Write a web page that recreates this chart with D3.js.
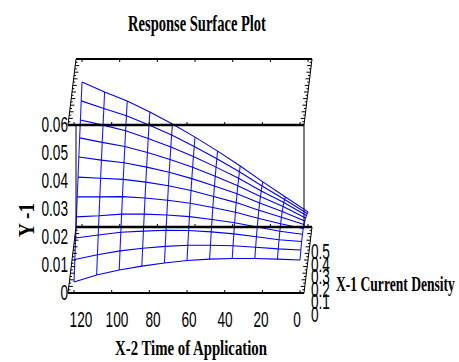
<!DOCTYPE html>
<html>
<head>
<meta charset="utf-8">
<script src="https://cdn.jsdelivr.net/npm/d3@7"></script>
<style>
  body { margin: 0; background: #fff; }
  svg { display: block; }
</style>
</head>
<body>
<svg id="chart" width="459" height="362"></svg>
<script>
// X-2 time of application (mesh columns) and X-1 current density (mesh rows)
const timeValues = [0, 12, 24, 36, 48, 60, 72, 84, 96, 108, 120];
const densityValues = [0, 0.05, 0.1, 0.15, 0.2, 0.25, 0.3, 0.35, 0.4, 0.45, 0.5];

// Y-1 response, one array per density value, read across time 0 -> 120
const respD000 = [0.0118, 0.0121, 0.0123, 0.0123, 0.0121, 0.0116, 0.0107, 0.0096, 0.0082, 0.0064, 0.0039];
const respD005 = [0.0130, 0.0134, 0.0140, 0.0145, 0.0147, 0.0147, 0.0143, 0.0136, 0.0127, 0.0113, 0.0096];
const respD010 = [0.0137, 0.0143, 0.0154, 0.0164, 0.0171, 0.0176, 0.0177, 0.0174, 0.0170, 0.0160, 0.0149];
const respD015 = [0.0139, 0.0150, 0.0165, 0.0180, 0.0192, 0.0202, 0.0208, 0.0211, 0.0211, 0.0205, 0.0201];
const respD020 = [0.0136, 0.0153, 0.0173, 0.0194, 0.0211, 0.0226, 0.0237, 0.0245, 0.0250, 0.0249, 0.0249];
const respD025 = [0.0127, 0.0153, 0.0178, 0.0205, 0.0227, 0.0248, 0.0265, 0.0278, 0.0288, 0.0292, 0.0296];
const respD030 = [0.0116, 0.0150, 0.0180, 0.0213, 0.0241, 0.0267, 0.0290, 0.0308, 0.0324, 0.0333, 0.0344];
const respD035 = [0.0103, 0.0144, 0.0180, 0.0218, 0.0252, 0.0284, 0.0312, 0.0337, 0.0358, 0.0373, 0.0389];
const respD040 = [0.0088, 0.0135, 0.0176, 0.0221, 0.0261, 0.0299, 0.0333, 0.0363, 0.0391, 0.0411, 0.0429];
const respD045 = [0.0072, 0.0122, 0.0170, 0.0221, 0.0267, 0.0311, 0.0352, 0.0388, 0.0421, 0.0447, 0.0474];
const respD050 = [0.0054, 0.0107, 0.0161, 0.0218, 0.0271, 0.0321, 0.0368, 0.0411, 0.0450, 0.0482, 0.0518];
const responseRows = [respD000, respD005, respD010, respD015, respD020, respD025,
                      respD030, respD035, respD040, respD045, respD050];

const timeTicks = [120, 100, 80, 60, 40, 20, 0];
const densityTicks = [0, 0.1, 0.2, 0.3, 0.4, 0.5];
const respTicks = [0, 0.01, 0.02, 0.03, 0.04, 0.05, 0.06];

const svg = d3.select('#chart');

// oblique projection of the 3-D box: time runs right-to-left, density goes "into" the page
const xT = d3.scaleLinear().domain([-2.1, 123.2]).range([304, 68]);
const xC = d3.scaleLinear().domain([0, 0.5]).range([0, 8]);
const yZ = d3.scaleLinear().domain([0, 0.06]).range([293, 125]);
const yC = d3.scaleLinear().domain([0, 0.5]).range([0, -66]);
const px = (t, c) => xT(t) + xC(c);
const py = (c, z) => yZ(z) + yC(c);

const [tLo, tHi] = xT.domain();
const [cLo, cHi] = xC.domain();
const [zLo, zHi] = yZ.domain();

// ---- mesh ----
const meshLine = d3.line().x(d => px(d.t, d.c)).y(d => py(d.c, d.z));
const mesh = svg.append('g').attr('fill', 'none').attr('stroke', '#1a1aff').attr('stroke-width', 1.1);

timeValues.forEach((t, i) => {
  const pts = densityValues.map((c, j) => ({ t, c, z: responseRows[j][i] }));
  mesh.append('path').attr('d', meshLine(pts));
});
densityValues.forEach((c, j) => {
  const pts = timeValues.map((t, i) => ({ t, c, z: responseRows[j][i] }));
  mesh.append('path').attr('d', meshLine(pts)).attr('stroke', '#0000ee');
});

// ---- box ----
const box = svg.append('g').attr('stroke', '#000').attr('fill', 'none');
function edge(a, b, w) {
  box.append('line')
    .attr('x1', px(a[0], a[1])).attr('y1', py(a[1], a[2]))
    .attr('x2', px(b[0], b[1])).attr('y2', py(b[1], b[2]))
    .attr('stroke-width', w);
}
edge([tHi, cHi, zHi], [tLo, cHi, zHi], 2);      // back top
edge([tHi, cLo, zHi], [tLo, cLo, zHi], 2.4);    // front top
edge([tHi, cHi, zLo], [tLo, cHi, zLo], 2.4);    // back bottom
edge([tHi, cLo, zLo], [tLo, cLo, zLo], 2);      // front bottom
edge([tHi, cHi, zHi], [tHi, cLo, zHi], 1);
edge([tLo, cHi, zHi], [tLo, cLo, zHi], 1);
edge([tHi, cHi, zLo], [tHi, cLo, zLo], 1);
edge([tLo, cHi, zLo], [tLo, cLo, zLo], 1);

// short verticals between the two faces
box.append('line')
  .attr('x1', px(tHi, cHi)).attr('x2', px(tHi, cHi))
  .attr('y1', py(cLo, zHi)).attr('y2', py(cHi, zLo)).attr('stroke-width', 1);
box.append('line')
  .attr('x1', px(tLo, cLo)).attr('x2', px(tLo, cLo))
  .attr('y1', py(cLo, zHi)).attr('y2', py(cHi, zLo)).attr('stroke-width', 1);

// minor ticks on the slanted depth edges
const depthMinor = d3.range(0, 0.5001, 0.025);
depthMinor.forEach((c, k) => {
  const len = k % 2 ? 2 : 4;
  [zHi, zLo].forEach(z => {
    box.append('line')
      .attr('x1', px(tHi, c)).attr('x2', px(tHi, c) + len)
      .attr('y1', py(c, z)).attr('y2', py(c, z)).attr('stroke-width', 1);
    box.append('line')
      .attr('x1', px(tLo, c)).attr('x2', px(tLo, c) - len)
      .attr('y1', py(c, z)).attr('y2', py(c, z)).attr('stroke-width', 1);
  });
});

// ticks along the horizontal edges
timeTicks.forEach(t => {
  [[cHi, zHi, 3], [cLo, zHi, -3], [cHi, zLo, -3], [cLo, zLo, -3]].forEach(([c, z, d]) => {
    box.append('line')
      .attr('x1', px(t, c)).attr('x2', px(t, c))
      .attr('y1', py(c, z)).attr('y2', py(c, z) + d).attr('stroke-width', 1);
  });
});

// ---- labels ----
const sansFont = '"Liberation Sans", Arial, sans-serif';
const serifFont = '"Liberation Serif", "Times New Roman", serif';

function tickText(x, y, str, anchor) {
  svg.append('text')
    .attr('transform', `translate(${x},${y}) scale(0.62,1)`)
    .attr('text-anchor', anchor)
    .attr('font-family', sansFont)
    .attr('font-size', 22)
    .attr('fill', '#000')
    .text(str);
}

respTicks.forEach(v => tickText(68, yZ(v) + 7, String(v), 'end'));

const timeLabelX = d3.scaleLinear().domain([0, 120]).range([297, 81]);
timeTicks.forEach(t => tickText(timeLabelX(t), 327, String(t), 'middle'));

const densLabelY = d3.scaleLinear().domain([0, 0.5]).range([322, 259]);
densityTicks.forEach(c => tickText(311, densLabelY(c), String(c), 'start'));

// narrow bold serif labels: squeeze horizontally to the measured width
function squeezedLabel(str, x, y, size, width, anchor, rotate) {
  const t = svg.append('text')
    .attr('text-anchor', anchor)
    .attr('font-family', serifFont).attr('font-weight', 'bold').attr('font-size', size)
    .text(str);
  const k = width / t.node().getComputedTextLength();
  t.attr('transform', `translate(${x},${y})` + (rotate ? ` rotate(${rotate})` : '') + ` scale(${k},1)`);
}

squeezedLabel('Response Surface Plot', 197, 31, 23, 138, 'middle');
squeezedLabel('X-2 Time of Application', 191, 355, 21, 152, 'middle');
squeezedLabel('X-1 Current Density', 336, 291, 21, 119, 'start');
squeezedLabel('Y -1', 34, 220, 24, 34, 'middle', -90);
</script>
</body>
</html>
